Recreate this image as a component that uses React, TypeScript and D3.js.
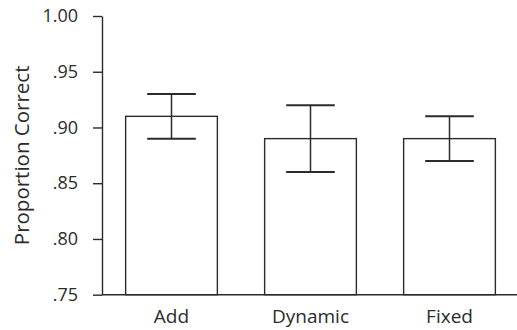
import React, { useEffect, useRef } from 'react';
import * as d3 from 'd3';

const categories = ["Add", "Dynamic", "Fixed"];
const means = [0.91, 0.89, 0.89];
const lowers = [0.89, 0.86, 0.87];
const uppers = [0.93, 0.92, 0.91];
const yTicks = [0.75, 0.8, 0.85, 0.9, 0.95, 1.0];

const App = () => {
    const svgRef = useRef<SVGSVGElement>(null);

    useEffect(() => {
        const svg = d3.select(svgRef.current);
        svg.selectAll("*").remove();

        const width = 517;
        const height = 330;
        const ink = "#2b2b2b";
        const font = "'Open Sans', 'DejaVu Sans', sans-serif";

        svg.attr("width", width).attr("height", height);

        const x = d3.scaleBand()
            .domain(categories)
            .range([102, 519])
            .paddingInner(0.34)
            .paddingOuter(0.17);

        const y = d3.scaleLinear()
            .domain([0.75, 1.0])
            .range([294.7, 16]);

        const data = categories.map((c, i) => ({ cat: c, mean: means[i], lo: lowers[i], hi: uppers[i] }));

        // bars
        svg.selectAll(".bar")
            .data(data)
            .enter()
            .append("rect")
            .attr("class", "bar")
            .attr("x", d => x(d.cat)!)
            .attr("y", d => y(d.mean))
            .attr("width", x.bandwidth())
            .attr("height", d => y(0.75) - y(d.mean))
            .attr("fill", "white")
            .attr("stroke", ink)
            .attr("stroke-width", 1.4);

        // error bars
        const capHalf = x.bandwidth() * 0.265;
        const err = svg.append("g").attr("class", "errors");
        data.forEach(d => {
            const cx = x(d.cat)! + x.bandwidth() / 2;
            err.append("line")
                .attr("x1", cx).attr("x2", cx)
                .attr("y1", y(d.hi)).attr("y2", y(d.lo))
                .attr("stroke", ink).attr("stroke-width", 1.5);
            [d.hi, d.lo].forEach(v => {
                err.append("line")
                    .attr("x1", cx - capHalf).attr("x2", cx + capHalf)
                    .attr("y1", y(v)).attr("y2", y(v))
                    .attr("stroke", ink).attr("stroke-width", 2);
            });
        });

        // y axis
        const fmt = (d: number) => d3.format(".2f")(d).replace(/^0/, "");
        const yAxis = svg.append("g")
            .attr("transform", "translate(102,0)")
            .call(d3.axisLeft(y).tickValues(yTicks).tickFormat(d => fmt(d as number)).tickSize(9).tickSizeOuter(0).tickPadding(15));
        yAxis.select(".domain").attr("stroke", ink).attr("stroke-width", 1.4);
        yAxis.selectAll(".tick line").attr("stroke", ink).attr("stroke-width", 1.4);
        yAxis.selectAll(".tick text")
            .attr("fill", ink)
            .style("font-size", "18px")
            .style("font-family", font);

        // x axis baseline
        svg.append("line")
            .attr("x1", 102).attr("x2", width)
            .attr("y1", y(0.75)).attr("y2", y(0.75))
            .attr("stroke", ink).attr("stroke-width", 1.4);

        svg.selectAll(".xlabel")
            .data(categories)
            .enter()
            .append("text")
            .attr("class", "xlabel")
            .attr("x", d => x(d)! + x.bandwidth() / 2)
            .attr("y", 323)
            .attr("text-anchor", "middle")
            .attr("fill", ink)
            .style("font-size", "19px")
            .style("font-family", font)
            .text(d => d);

        svg.append("text")
            .attr("transform", `translate(29,${(y(1.0) + y(0.75)) / 2}) rotate(-90)`)
            .attr("text-anchor", "middle")
            .attr("fill", ink)
            .style("font-size", "20.5px")
            .style("font-family", font)
            .text("Proportion Correct");
    }, []);

    return (
        <div style={{ position: "absolute", left: 0, top: 0 }}>
            <svg ref={svgRef} style={{ display: "block" }}></svg>
        </div>
    );
};

export default App;
